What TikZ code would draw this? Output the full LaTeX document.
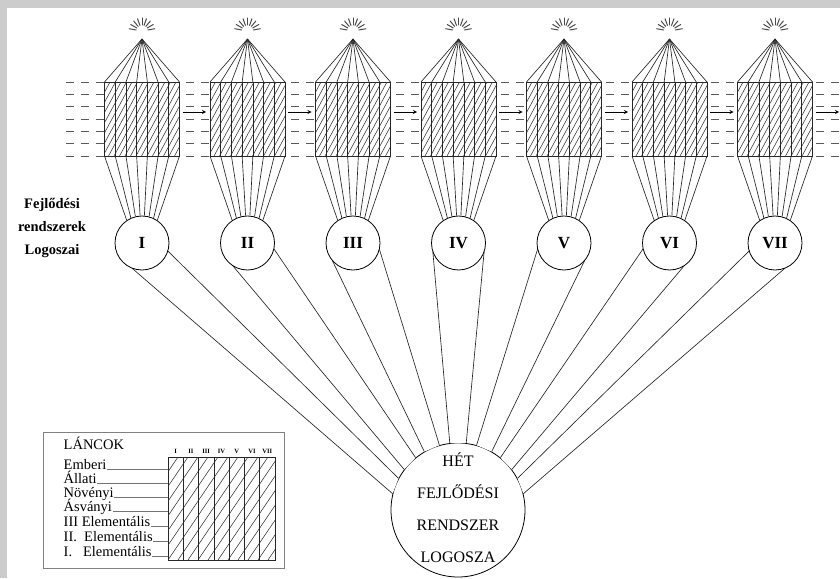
\documentclass[tikz,border=0pt]{standalone}
\usepackage{fontspec}
\setmainfont{Liberation Serif}
\usetikzlibrary{calc}
\usetikzlibrary{shapes.geometric, arrows}
\tikzstyle{arrow} = [thick,->,>=stealth]
\tikzset{
	fan/.style={line width=0.65pt,black!85},
	hatch/.style={line width=0.55pt,black!80},
	dashrow/.style={line width=1pt,black!65,dash pattern=on 8pt off 7pt},
	logos/.style={circle,draw,fill=white,line width=0.8pt,minimum size=54pt,inner sep=0pt,font=\fontsize{17}{17}\selectfont\bfseries},
	bigcirc/.style={circle,draw,line width=0.8pt,minimum size=134pt,inner sep=0pt},
	legtext/.style={inner sep=0.5pt,font=\fontsize{14.5}{14}\selectfont},
	leader/.style={line width=0.4pt,black!55},
	ray/.style={line width=1pt,black!70,line cap=round}
}

\begin{document}
\begin{tikzpicture}[x=1pt,y=-1pt]
	\useasboundingbox (0,0) rectangle (840,578);
	\fill[gray!40] (0,0) rectangle (840,578);
	\fill[white] (7,8) rectangle (840,578);
	% streams
	\foreach \r in {0,...,6}
		\draw[dashrow] (66,{82+\r*74/6}) -- (840,{82+\r*74/6});
	% central logos
	\node[bigcirc] (H) at (458,510) {};
	\node[align=center,font=\fontsize{16}{32}\selectfont] (Htext) at (458,508) {HÉT\\FEJLŐDÉSI\\RENDSZER\\LOGOSZA};
	\foreach \k in {1,...,7}{
		\pgfmathsetmacro\cx{142+105.5*(\k-1)}
		\pgfmathtruncatemacro\angA{90+23*(4-\k)+7}
		\pgfmathtruncatemacro\angB{90+23*(4-\k)-7}
		\pgfmathsetmacro\ra{-min(72,23+49*(7-\k)/3)}
		\pgfmathsetmacro\rb{min(72,23+49*(\k-1)/3)}
		\coordinate (s\k) at (\cx,243);
		\coordinate (a\k) at ($(s\k)!27pt!\ra:(H)$);
		\coordinate (b\k) at ($(s\k)!27pt!\rb:(H)$);
		\fill[white] (a\k) -- (H.\angA) -- (H.\angB) -- (b\k) -- cycle;
		\draw[fan] (a\k) -- (H.\angA) (b\k) -- (H.\angB);
	}
	% the seven systems
	\foreach \k/\num in {1/I,2/II,3/III,4/IV,5/V,6/VI,7/VII}{
		\pgfmathsetmacro\cx{142+105.5*(\k-1)}
		\coordinate (sun\k) at (\cx,31);
		\coordinate (apex\k) at (\cx,39);
		\foreach \a in {10,30,...,170}
			\draw[ray] ($(sun\k)+(\a:6pt)$) -- ($(sun\k)+(\a:13pt)$);
		\filldraw[fan,fill=white] (\cx-37.5,82) rectangle (\cx+37.5,156);
		\begin{scope}
			\clip (\cx-37.5,82) rectangle (\cx+37.5,156);
			\foreach \h in {0,...,21}
				\draw[hatch] (\cx-77.5+\h*5.5,156) -- ++(40,-74);
		\end{scope}
		\node[logos] (c\k) at (\cx,243) {\num};
		\foreach \i in {0,...,7}{
			\pgfmathtruncatemacro\ba{124-\i*68/7}
			\draw[fan] (apex\k) -- (\cx-37.5+\i*75/7,82);
			\draw[fan] (\cx-37.5+\i*75/7,82) -- ++(0,74);
			\draw[fan] (\cx-37.5+\i*75/7,156) -- (c\k.\ba);
		}
		\draw[arrow] (\cx+40.5,112) -- (\cx+64,112);
	}
	\node[align=center,font=\fontsize{14.5}{23}\selectfont\bfseries] (title) at (52,228) {Fejlődési\\rendszerek\\Logoszai};
	% legend
	\node[draw=black!50,line width=0.8pt,minimum width=241pt,minimum height=136pt,anchor=north west,inner sep=0pt] (legend) at (43,432) {};
	\node[legtext,anchor=base west] (lancok) at (63,449) {LÁNCOK};
	\node[draw,fan,minimum width=107pt,minimum height=103pt,anchor=north west,inner sep=0pt] (tbl) at (168,457) {};
	\begin{scope}
		\clip (168,457) rectangle (275,560);
		\foreach \h in {0,...,18}
			\draw[hatch] (98+\h*10,560) -- ++(70,-103);
	\end{scope}
	\foreach \j/\n in {1/I,2/II,3/III,4/IV,5/V,6/VI,7/VII}{
		\draw[fan] (168+\j*107/7,457) -- ++(0,103);
		\node[font=\fontsize{6.5}{7}\selectfont\bfseries,inner sep=0pt] (head\j) at ({168+(\j-0.5)*107/7},451) {\n};
	}
	\foreach \r/\txt/\y in {1/Emberi/469,2/Állati/483,3/Növényi/497,4/Ásványi/511,5/III Elementális/526,6/II.\ \ Elementális/541,7/I.\ \ \ Elementális/556}{
		\node[legtext,anchor=base west] (row\r) at (63,\y) {\txt};
		\draw[leader] (row\r.base east) -- (row\r.base east -| tbl.west);
	}
\end{tikzpicture}
\end{document}
